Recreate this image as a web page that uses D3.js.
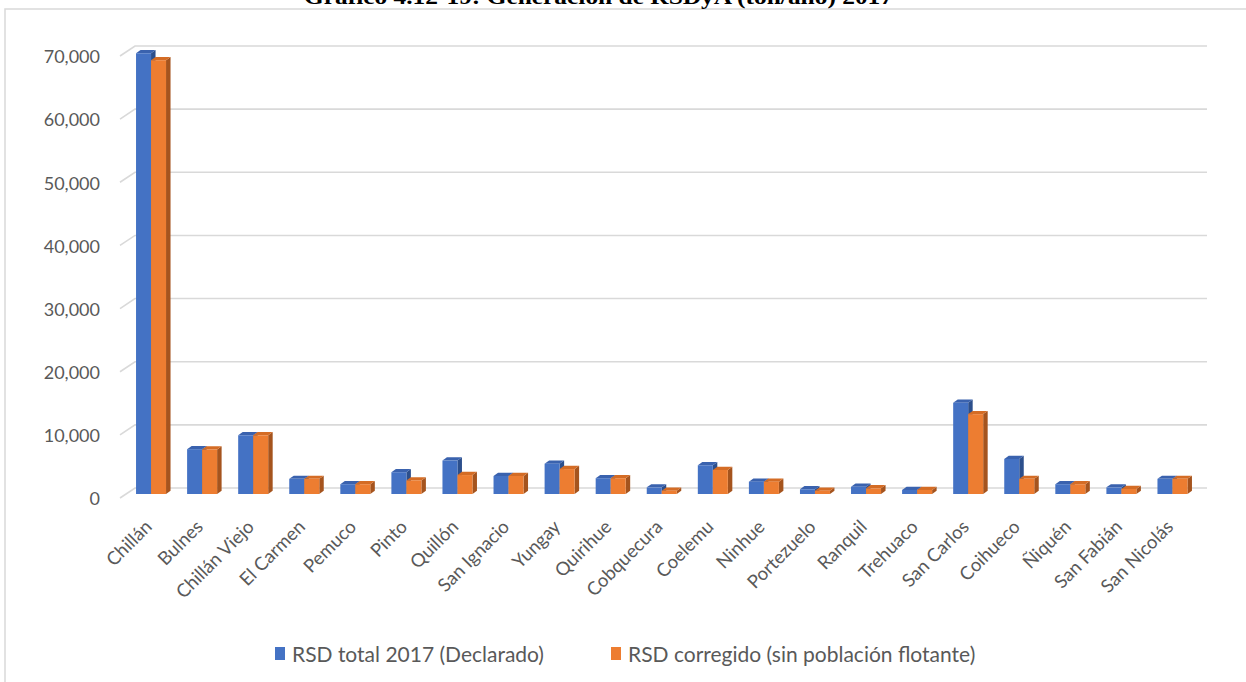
<!DOCTYPE html>
<html>
<head>
<meta charset="utf-8">
<script src="https://cdn.jsdelivr.net/npm/d3@7/dist/d3.min.js"></script>
<style>
  html, body { margin: 0; padding: 0; background: #fff; }
  svg { display: block; }
</style>
</head>
<body>
<svg id="chart" width="1246" height="682"></svg>
<script>
const categories = ["Chillán","Bulnes","Chillán Viejo","El Carmen","Pemuco","Pinto","Quillón","San Ignacio","Yungay","Quirihue","Cobquecura","Coelemu","Ninhue","Portezuelo","Ranquil","Trehuaco","San Carlos","Coihueco","Ñiquén","San Fabián","San Nicolás"];
const rsdTotal = [69800,7100,9300,2400,1550,3450,5300,2850,4800,2500,1050,4550,1950,750,1150,650,14450,5550,1550,1050,2400];
const rsdCorregido = [68700,7050,9300,2400,1550,2150,3000,2850,3950,2500,520,3800,1950,520,900,650,12650,2400,1550,800,2400];
const yTicks = [0,10000,20000,30000,40000,50000,60000,70000];
const seriesNames = ["RSD total 2017 (Declarado)", "RSD corregido (sin población flotante)"];
const title = "Gráfico 4.12-19: Generación de RSDyA (ton/año) 2017";

const svg = d3.select("#chart");
const textColor = "#595959";
const gridColor = "#D9D9D9";

// frame
svg.append("rect").attr("x", 5).attr("y", 9).attr("width", 1300).attr("height", 700)
  .attr("fill", "none").attr("stroke", gridColor).attr("stroke-width", 1.5);

// title (cut at top, as in the reference)
svg.append("text").attr("x", 304).attr("y", 4)
  .attr("font-family", "Liberation Serif, serif").attr("font-weight", "bold")
  .attr("font-size", 22).attr("fill", "#000")
  .attr("textLength", 589).attr("lengthAdjust", "spacingAndGlyphs")
  .text(title);

const y = d3.scaleLinear().domain([0, 70000]).range([494, 52]);
const x = d3.scaleBand().domain(categories).range([125.5, 1198]).padding(0);

// gridlines with 3D perspective
const backOff = -6, frontOff = 4;
const grid = svg.append("g");
yTicks.forEach(t => {
  const yb = y(t) + backOff, yf = y(t) + frontOff;
  grid.append("path")
    .attr("d", `M120,${yf}L135,${yb}L1207,${yb}`)
    .attr("fill", "none").attr("stroke", gridColor).attr("stroke-width", 1.6);
});

// y axis labels
const fmt = d3.format(",");
svg.append("g").selectAll("text").data(yTicks).join("text")
  .attr("x", 100).attr("y", d => y(d) + 5).attr("dy", "0.35em")
  .attr("text-anchor", "end")
  .attr("font-family", "Lato, sans-serif").attr("font-size", 18).attr("fill", textColor)
  .text(d => fmt(d));

// bars
const bw = 15, dx = 4.5, dy = 3.2, base = y(0);
const colors = [
  { front: "#4472C4", top: "#3A62AE", side: "#2C4F8C" },
  { front: "#ED7D31", top: "#D46C25", side: "#A5541E" }
];
const barsG = svg.append("g");
categories.forEach((c, i) => {
  const cx = x(c) + x.bandwidth() / 2;
  [rsdTotal[i], rsdCorregido[i]].forEach((v, s) => {
    const x0 = s === 0 ? cx - bw : cx;
    const yt = y(v);
    const col = colors[s];
    const g = barsG.append("g");
    g.append("polygon")
      .attr("points", `${x0 + bw},${yt} ${x0 + bw + dx},${yt - dy} ${x0 + bw + dx},${base - dy} ${x0 + bw},${base}`)
      .attr("fill", col.side);
    g.append("polygon")
      .attr("points", `${x0},${yt} ${x0 + dx},${yt - dy} ${x0 + bw + dx},${yt - dy} ${x0 + bw},${yt}`)
      .attr("fill", col.top);
    g.append("rect").attr("x", x0).attr("y", yt).attr("width", bw).attr("height", base - yt)
      .attr("fill", col.front);
  });
});

// x labels
svg.append("g").selectAll("text").data(categories).join("text")
  .attr("transform", d => `translate(${x(d) + x.bandwidth() / 2 + 2},${528}) rotate(-45)`)
  .attr("text-anchor", "end")
  .attr("font-family", "Lato, sans-serif").attr("font-size", 18.5).attr("fill", textColor)
  .text(d => d);

// legend
const legend = [
  { name: seriesNames[0], color: colors[0].front, sx: 275, tx: 292 },
  { name: seriesNames[1], color: colors[1].front, sx: 611, tx: 628 }
];
legend.forEach(l => {
  svg.append("rect").attr("x", l.sx).attr("y", 647).attr("width", 10).attr("height", 13).attr("fill", l.color);
  svg.append("text").attr("x", l.tx).attr("y", 662)
    .attr("font-family", "Lato, sans-serif").attr("font-size", 21).attr("fill", textColor)
    .text(l.name);
});
</script>
</body>
</html>
